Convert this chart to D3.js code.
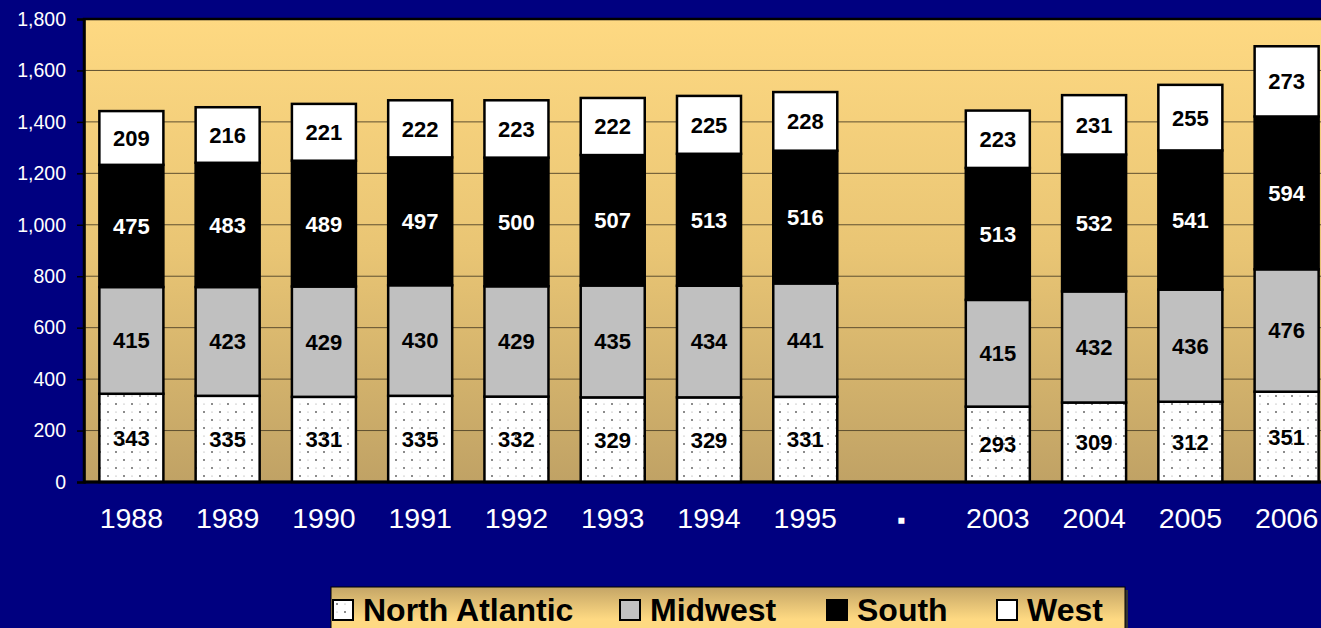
<!DOCTYPE html>
<html lang="en">
<head>
<meta charset="UTF-8">
<title>Regional stacked bars</title>
<script src="https://d3js.org/d3.v7.min.js"></script>
<style>
  body { margin: 0; background: #000080; overflow: hidden; }
  text { font-family: "Liberation Sans", Arial, sans-serif; }
</style>
</head>
<body>
<div id="chart"></div>
<script>
const years = ["1988", "1989", "1990", "1991", "1992", "1993", "1994", "1995", "▪", "2003", "2004", "2005", "2006"];
const northAtlantic = [343, 335, 331, 335, 332, 329, 329, 331, null, 293, 309, 312, 351];
const midwest = [415, 423, 429, 430, 429, 435, 434, 441, null, 415, 432, 436, 476];
const south = [475, 483, 489, 497, 500, 507, 513, 516, null, 513, 532, 541, 594];
const west = [209, 216, 221, 222, 223, 222, 225, 228, null, 223, 231, 255, 273];
const seriesNames = ["North Atlantic", "Midwest", "South", "West"];
const yTicks = [0, 200, 400, 600, 800, 1000, 1200, 1400, 1600, 1800];

const W = 1321, H = 628;
const plot = {left: 84, top: 19, bottom: 482, right: 1335};

const svg = d3.select("#chart").append("svg")
    .attr("width", W).attr("height", H);

const defs = svg.append("defs");
const bg = defs.append("linearGradient").attr("id", "plotbg")
    .attr("x1", 0).attr("y1", 0).attr("x2", 0).attr("y2", 1);
bg.append("stop").attr("offset", "0%").attr("stop-color", "#fed982");
bg.append("stop").attr("offset", "50%").attr("stop-color", "#e9c574");
bg.append("stop").attr("offset", "100%").attr("stop-color", "#c0a265");

const lg = defs.append("linearGradient").attr("id", "legbg")
    .attr("x1", 0).attr("y1", 0).attr("x2", 0).attr("y2", 1);
lg.append("stop").attr("offset", "0%").attr("stop-color", "#c4a566");
lg.append("stop").attr("offset", "70%").attr("stop-color", "#fed982");
lg.append("stop").attr("offset", "100%").attr("stop-color", "#fed982");

const pat = defs.append("pattern").attr("id", "dots")
    .attr("patternUnits", "userSpaceOnUse").attr("width", 16).attr("height", 16);
pat.append("rect").attr("width", 16).attr("height", 16).attr("fill", "#fff");
pat.append("circle").attr("cx", 4).attr("cy", 4).attr("r", 1).attr("fill", "#666");
pat.append("circle").attr("cx", 12).attr("cy", 12).attr("r", 1).attr("fill", "#666");
pat.append("circle").attr("cx", 12).attr("cy", 4).attr("r", 0.6).attr("fill", "#999");
pat.append("circle").attr("cx", 4).attr("cy", 12).attr("r", 0.6).attr("fill", "#999");

const fills = ["url(#dots)", "#c0c0c0", "#000000", "#ffffff"];
const labelColors = ["#000", "#000", "#fff", "#000"];

const x = d3.scaleBand().domain(years).range([83, plot.right]).paddingInner(0.335).paddingOuter(0.17);
const y = d3.scaleLinear().domain([0, 1800]).range([plot.bottom, plot.top]);

// plot area
svg.append("rect").attr("x", plot.left).attr("y", plot.top)
    .attr("width", plot.right - plot.left).attr("height", plot.bottom - plot.top)
    .attr("fill", "url(#plotbg)").attr("stroke", "#000").attr("stroke-width", 2.5);

// gridlines
svg.append("g").selectAll("line").data(yTicks.filter(d => d > 0 && d < 1800)).join("line")
    .attr("x1", plot.left).attr("x2", plot.right)
    .attr("y1", d => y(d)).attr("y2", d => y(d))
    .attr("stroke", "#5e4f30").attr("stroke-width", 1);

// y axis
const yAxis = svg.append("g").attr("transform", `translate(${plot.left},0)`)
    .call(d3.axisLeft(y).tickValues(yTicks).tickFormat(d3.format(",")).tickSize(7).tickPadding(11));
yAxis.select(".domain").attr("stroke", "#000").attr("stroke-width", 2.5);
yAxis.selectAll(".tick line").attr("stroke", "#000").attr("stroke-width", 1.5);
yAxis.selectAll(".tick text").attr("fill", "#fff").style("font-size", "19.5px")
    .style("font-family", "'Liberation Sans', Arial, sans-serif");

// stacked data
const rows = years.map((yr, i) => ({year: yr, v: [northAtlantic[i], midwest[i], south[i], west[i]]}));
const segs = [];
rows.forEach(r => {
  if (r.v[0] == null) return;
  let base = 0;
  r.v.forEach((val, k) => {
    segs.push({year: r.year, k, y0: base, y1: base + val, val});
    base += val;
  });
});

svg.append("g").selectAll("rect").data(segs).join("rect")
    .attr("x", d => x(d.year))
    .attr("width", x.bandwidth())
    .attr("y", d => y(d.y1))
    .attr("height", d => y(d.y0) - y(d.y1))
    .attr("fill", d => fills[d.k])
    .attr("stroke", "#000").attr("stroke-width", 2.5);

svg.append("g").selectAll("text").data(segs).join("text")
    .attr("x", d => x(d.year) + x.bandwidth() / 2)
    .attr("y", d => (y(d.y0) + y(d.y1)) / 2)
    .attr("dy", "0.36em")
    .attr("text-anchor", "middle")
    .attr("fill", d => labelColors[d.k])
    .style("font-size", "22px").style("font-weight", "bold")
    .text(d => d.val);

// bottom axis line
svg.append("line").attr("x1", plot.left).attr("x2", plot.right)
    .attr("y1", plot.bottom).attr("y2", plot.bottom)
    .attr("stroke", "#000").attr("stroke-width", 3);

// x labels
svg.append("g").selectAll("text").data(years).join("text")
    .attr("x", d => x(d) + x.bandwidth() / 2)
    .attr("y", 528)
    .attr("text-anchor", "middle")
    .attr("fill", "#fff")
    .style("font-size", d => d === "▪" ? "24px" : "28.5px")
    .text(d => d);

// legend
const leg = svg.append("g");
leg.append("rect").attr("x", 334).attr("y", 590).attr("width", 794).attr("height", 46).attr("fill", "#333");
leg.append("rect").attr("x", 331).attr("y", 587).attr("width", 794).attr("height", 46)
    .attr("fill", "url(#legbg)").attr("stroke", "#000").attr("stroke-width", 1);
const legX = [333, 620, 827, 997];
const items = leg.selectAll("g.item").data(seriesNames).join("g")
    .attr("transform", (d, i) => `translate(${legX[i]},600)`);
items.append("rect").attr("width", 20).attr("height", 20)
    .attr("fill", (d, i) => fills[i]).attr("stroke", "#000").attr("stroke-width", 2);
items.append("text").attr("x", 30).attr("y", 21)
    .attr("fill", "#000").style("font-size", "32px").style("font-weight", "bold")
    .text(d => d);
</script>
</body>
</html>
